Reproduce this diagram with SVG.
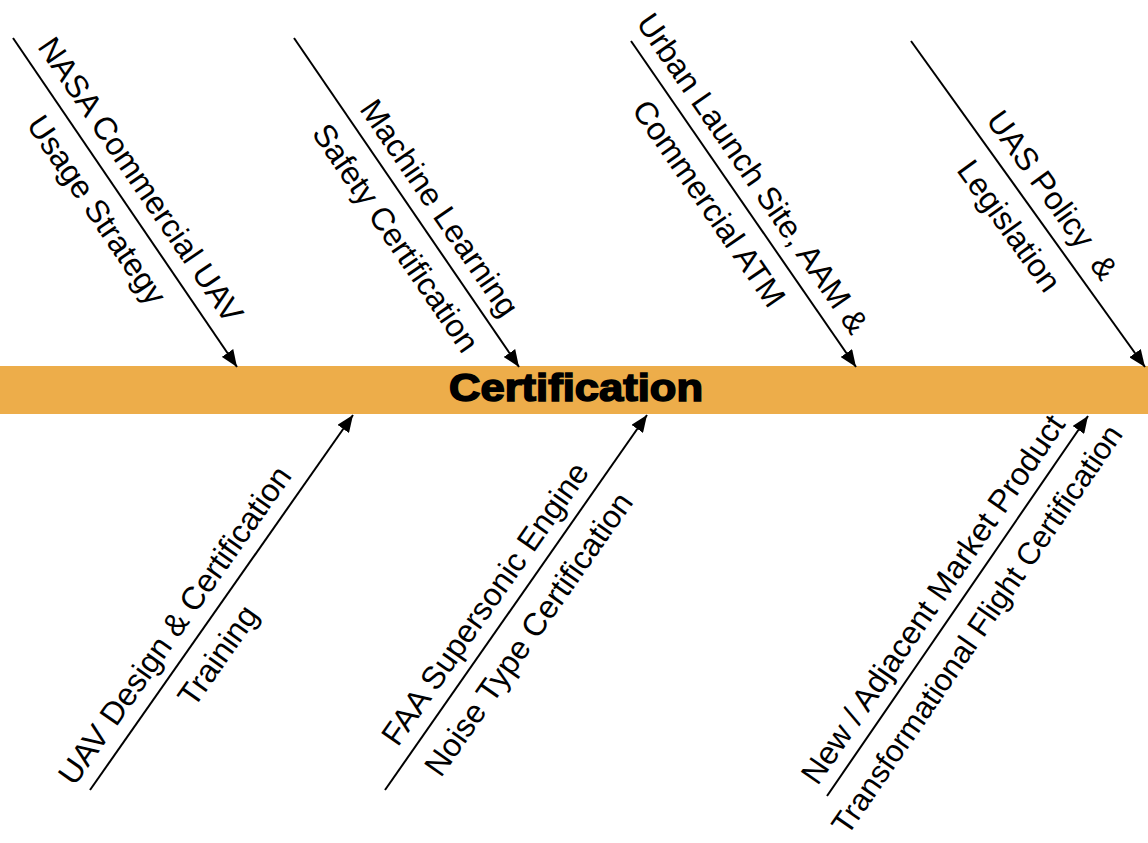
<svg xmlns="http://www.w3.org/2000/svg" width="1148" height="843" viewBox="0 0 1148 843">
<style>
.lbl{font-family:"Liberation Sans",Arial,sans-serif;font-size:32px;fill:#000;text-anchor:middle}
.bone{stroke:#000;stroke-width:2;fill:none;marker-end:url(#ah)}
.title{font-family:"Liberation Sans",Arial,sans-serif;font-size:38px;font-weight:bold;fill:#000;stroke:#000;stroke-width:1.6;text-anchor:middle}
</style>
<defs>
<marker id="ah" markerUnits="userSpaceOnUse" markerWidth="18" markerHeight="14" refX="17" refY="7" orient="auto">
<path d="M0,0 L17,7 L0,14 z" fill="#000"/>
</marker>
</defs>
<rect width="1148" height="843" fill="#fff"/>
<g id="spine">
<rect x="0" y="366" width="1148" height="48" fill="#EDAD4A"/>
<text class="title" x="576" y="401" textLength="254" lengthAdjust="spacingAndGlyphs">Certification</text>
</g>
<g id="connectors">
<line class="bone" x1="13" y1="38" x2="237" y2="367"/>
<line class="bone" x1="294" y1="38" x2="519" y2="367"/>
<line class="bone" x1="631" y1="41" x2="856" y2="367"/>
<line class="bone" x1="911" y1="41" x2="1145" y2="367"/>
<line class="bone" x1="90" y1="790" x2="353" y2="415"/>
<line class="bone" x1="385" y1="790" x2="647" y2="415"/>
<line class="bone" x1="827" y1="796" x2="1088" y2="416"/>
</g>
<g id="cause1">
<text class="lbl" transform="translate(120,194) rotate(55.75)"><tspan x="0" y="-14">NASA Commercial UAV</tspan><tspan x="0" y="39">Usage Strategy</tspan></text>
</g>
<g id="cause2">
<text class="lbl" transform="translate(419,222) rotate(55.63)"><tspan x="0" y="-14">Machine Learning</tspan><tspan x="0" y="39">Safety Certification</tspan></text>
</g>
<g id="cause3">
<text class="lbl" transform="translate(732,187.5) rotate(55.39)"><tspan x="0" y="-14">Urban Launch Site, AAM &amp;</tspan><tspan x="0" y="39">Commercial ATM</tspan></text>
</g>
<g id="cause4">
<text class="lbl" transform="translate(1032,209.5) rotate(54.33)"><tspan x="0" y="-14">UAS Policy&#160; &amp;</tspan><tspan x="0" y="39">Legislation</tspan></text>
</g>
<g id="cause5">
<text class="lbl" transform="translate(195,639.5) rotate(-54.96)"><tspan x="0" y="-14">UAV Design &amp; Certification</tspan><tspan x="0" y="39">Training</tspan></text>
</g>
<g id="cause6">
<text class="lbl" transform="translate(505.5,618) rotate(-55.06)"><tspan x="0" y="-14">FAA Supersonic Engine</tspan><tspan x="0" y="39">Noise Type Certification</tspan></text>
</g>
<g id="cause7">
<text class="lbl" transform="translate(953.5,613.3) rotate(-55.52)"><tspan x="0" y="-14">New / Adjacent Market Product</tspan><tspan x="0" y="39" style="font-size:31px">Transformational Flight Certification</tspan></text>
</g>
</svg>
